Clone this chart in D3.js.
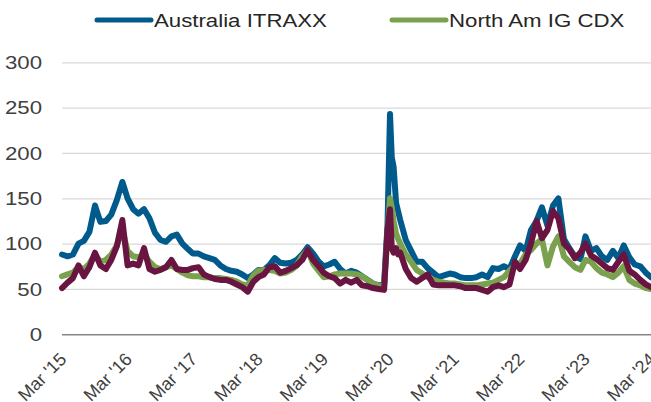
<!DOCTYPE html>
<html>
<head>
<meta charset="utf-8">
<script src="https://cdnjs.cloudflare.com/ajax/libs/d3/7.8.5/d3.min.js"></script>
<style>
  body { margin: 0; background: #fff; }
  text { font-family: "Liberation Sans", Arial, sans-serif; fill: #404040; }
</style>
</head>
<body>
<div class="chart"></div>
<script>
// monthly observations Mar 2015 - Mar 2024, with extra points round the Mar 2020 spike
var covidDates = ["2020-02-20", "2020-03-05", "2020-03-15", "2020-03-25", "2020-04-08", "2020-04-20"];

var australia = [
  88, 86, 88, 100, 103, 113, 142, 124, 125, 132, 148, 168,
  150, 138, 133, 138, 128, 112, 104, 102, 108, 110, 100, 94,
  89, 89, 86, 84, 82, 76, 72, 70, 69, 66, 62, 66,
  71, 71, 76, 84, 79, 78, 79, 82, 88, 96, 89, 80,
  75, 77, 80, 72, 67, 70, 68, 64, 60, 56, 54, 56,
  120, 243, 195, 185, 145, 135,
  126, 104, 92, 80, 80, 73, 68, 63, 65, 67,
  66, 63, 62, 62, 63, 66, 63, 73, 72, 75, 72, 86,
  98, 92, 115, 125, 140, 120, 142, 150, 105, 95, 86, 83,
  108, 92, 95, 86, 82, 92, 84, 98, 85, 77, 75, 68,
  63
];

var northAm = [
  64, 66, 68, 74, 72, 78, 88, 80, 82, 88, 98, 115,
  92, 86, 85, 88, 80, 74, 72, 74, 76, 72, 68, 65,
  64, 64, 63, 63, 62, 62, 61, 60, 58, 55, 54, 65,
  70, 71, 71, 70, 67, 68, 71, 76, 86, 93, 78, 70,
  63, 64, 66, 67, 67, 67, 66, 64, 60, 56, 54, 53,
  110, 150, 140, 125, 111, 105,
  100, 88, 80, 71, 67, 63, 60, 58, 57, 56,
  56, 55, 54, 54, 54, 55, 56, 57, 60, 63, 70, 76,
  78, 88, 93, 100, 105, 76, 97, 108, 86, 80, 74, 71,
  82, 80, 73, 68, 66, 63, 68, 75, 60, 56, 54, 51,
  50
];

var third = [
  51, 57, 62, 76, 64, 74, 90, 76, 72, 82, 97, 126,
  76, 78, 76, 95, 72, 69, 71, 74, 82, 72, 71, 71,
  73, 74, 66, 63, 61, 60, 60, 58, 55, 52, 47, 58,
  63, 66, 74, 75, 68, 70, 73, 76, 82, 93, 82, 75,
  68, 64, 62, 56, 60, 57, 60, 54, 53, 51, 50, 49,
  115, 138, 95, 90, 95, 88,
  90, 72, 62, 58, 62, 66, 55, 54, 54, 54,
  54, 53, 51, 51, 51, 49, 47, 52, 54, 52, 55, 80,
  72, 82, 100, 125, 106, 115, 136, 128, 100, 94, 84, 90,
  100, 87, 83, 78, 73, 71, 80, 88, 70, 66, 60, 55,
  52
];

var yTicks = [0, 50, 100, 150, 200, 250, 300];
var tickYears = [2015, 2016, 2017, 2018, 2019, 2020, 2021, 2022, 2023, 2024];
var legendNames = ["Australia ITRAXX", "North Am IG CDX"];
var colors = ["#005b8c", "#7aa24e", "#6a1442"];

var svgWidth = 651;
var svgHeight = 402;
var margin = { top: 62.3, right: 0, bottom: 67.7, left: 62 };
var width = svgWidth - margin.left - margin.right;
var height = svgHeight - margin.top - margin.bottom;

var parse = d3.timeParse("%Y-%m-%d");
var months = d3.timeMonth.range(new Date(2015, 2, 1), new Date(2024, 3, 1));
var dates = months.filter(function(d) { return d < new Date(2020, 2, 1); })
  .concat(covidDates.map(parse))
  .concat(months.filter(function(d) { return d >= new Date(2020, 4, 1); }));

var svg = d3.select(".chart")
  .append("svg")
  .attr("width", svgWidth)
  .attr("height", svgHeight)
  .append("g")
  .attr("transform", "translate(" + margin.left + "," + margin.top + ")");

var xScale = d3.scaleTime()
  .domain([new Date(2015, 2, 1), new Date(2024, 2, 1)])
  .range([0, width]);

var yScale = d3.scaleLinear()
  .domain([0, 300])
  .range([height, 0]);

// gridlines + y labels
var leftAxis = d3.axisLeft(yScale)
  .tickValues(yTicks)
  .tickSize(-width)
  .tickPadding(0);

var yAxis = svg.append("g").call(leftAxis);
yAxis.select(".domain").remove();
yAxis.selectAll(".tick line")
  .attr("stroke", function(d) { return d === 0 ? "#868686" : "#d9d9d9"; })
  .attr("stroke-width", function(d) { return d === 0 ? 1.5 : 1.2; });
yAxis.selectAll(".tick text")
  .attr("x", 0)
  .attr("dy", "0.36em")
  .attr("text-anchor", "end")
  .attr("transform", "translate(-20,0) scale(1.27,1)")
  .style("font-size", "17.5px")
  .style("font-family", "'Liberation Sans', Arial, sans-serif")
  .style("fill", "#404040");

// x labels
var bottomAxis = d3.axisBottom(xScale)
  .tickValues(tickYears.map(function(y) { return new Date(y, 2, 1); }))
  .tickSize(0)
  .tickFormat(function(d) { return "Mar '" + d3.timeFormat("%y")(d); });

var xAxis = svg.append("g")
  .attr("transform", "translate(0," + height + ")")
  .call(bottomAxis);
xAxis.select(".domain").remove();
xAxis.selectAll(".tick text")
  .attr("x", 0)
  .attr("y", 0)
  .attr("dy", 0)
  .attr("text-anchor", "end")
  .attr("transform", "translate(5,26) rotate(-45)")
  .style("font-size", "18px")
  .style("font-family", "'Liberation Sans', Arial, sans-serif")
  .style("fill", "#404040");

// series lines: blue, green, then maroon on top
var line = d3.line()
  .x(function(d) { return xScale(d.date); })
  .y(function(d) { return yScale(d.value); });

[australia, northAm, third].forEach(function(values, i) {
  var data = values.map(function(v, j) { return { date: dates[j], value: v }; });
  svg.append("path")
    .datum(data)
    .attr("fill", "none")
    .attr("stroke", colors[i])
    .attr("stroke-width", 6)
    .attr("stroke-linejoin", "round")
    .attr("stroke-linecap", "round")
    .attr("d", line);
});

// legend
var legend = d3.select("svg").append("g");
var legendX = [97, 392];
legendNames.forEach(function(name, i) {
  legend.append("line")
    .attr("x1", legendX[i])
    .attr("x2", legendX[i] + 54)
    .attr("y1", 20)
    .attr("y2", 20)
    .attr("stroke", colors[i])
    .attr("stroke-width", 5)
    .attr("stroke-linecap", "round");
  legend.append("text")
    .attr("transform", "translate(" + (legendX[i] + 57) + ",26.5) scale(1.27,1)")
    .style("font-size", "17.5px")
    .style("fill", "#262626")
    .text(name);
});
</script>
</body>
</html>
